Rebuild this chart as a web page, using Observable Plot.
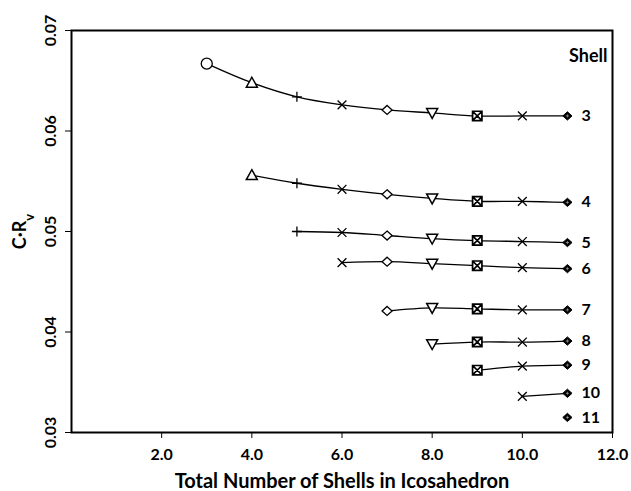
<!DOCTYPE html>
<html>
<head>
<meta charset="utf-8">
<script src="https://cdn.jsdelivr.net/npm/d3@7"></script>
<script src="https://cdn.jsdelivr.net/npm/@observablehq/plot@0.6"></script>
<style>
  html, body { margin: 0; padding: 0; background: #fff; }
  #chart svg { display: block; }
</style>
</head>
<body>
<div id="chart"></div>
<script>
// Total number of shells in the icosahedron (x axis)
const totalShells = [3, 4, 5, 6, 7, 8, 9, 10, 11];
const xTicks = [2, 4, 6, 8, 10, 12];
const yTicks = [0.03, 0.04, 0.05, 0.06, 0.07];

// C·Rv for each shell; shell n is first present when the icosahedron has n shells
const shellIds = [3, 4, 5, 6, 7, 8, 9, 10, 11];
const shell3  = [0.0667, 0.0648, 0.0634, 0.0626, 0.0621, 0.0618, 0.0615, 0.0615, 0.0615];
const shell4  = [0.0556, 0.0548, 0.0542, 0.0537, 0.0533, 0.0530, 0.0530, 0.0529];
const shell5  = [0.0500, 0.0499, 0.0496, 0.0493, 0.0491, 0.0490, 0.0489];
const shell6  = [0.0469, 0.0470, 0.0468, 0.0466, 0.0464, 0.0463];
const shell7  = [0.0421, 0.0424, 0.0423, 0.0422, 0.0422];
const shell8  = [0.0388, 0.0390, 0.0390, 0.0391];
const shell9  = [0.0362, 0.0366, 0.0367];
const shell10 = [0.0336, 0.0339];
const shell11 = [0.0315];
const shellSeries = [shell3, shell4, shell5, shell6, shell7, shell8, shell9, shell10, shell11];

const headerText = "Shell";
const xLabel = "Total Number of Shells in Icosahedron";
const yLabel = "C·R";
const ySub = "v";

const rows = [];
shellSeries.forEach((vals, i) => {
  const shell = shellIds[i];
  vals.forEach((v, j) => rows.push({shell, total: totalShells[totalShells.indexOf(shell) + j], value: v}));
});

// Marker glyphs (radius derived from the area d3 passes in)
const rad = size => Math.sqrt(size / Math.PI);
const symTriUp = {draw(c, s) { const r = rad(s); c.moveTo(0, -r); c.lineTo(r, r * 0.8); c.lineTo(-r, r * 0.8); c.closePath(); }};
const symTriDown = {draw(c, s) { const r = rad(s); c.moveTo(-r, -r * 0.8); c.lineTo(r, -r * 0.8); c.lineTo(0, r); c.closePath(); }};
const symPlus = {draw(c, s) { const r = rad(s); c.moveTo(-r, 0); c.lineTo(r, 0); c.moveTo(0, -r); c.lineTo(0, r); }};
const symTimes = {draw(c, s) { const r = rad(s) * 0.8; c.moveTo(-r, -r); c.lineTo(r, r); c.moveTo(r, -r); c.lineTo(-r, r); }};
const symDiamond = {draw(c, s) { const r = rad(s); c.moveTo(0, -r * 0.9); c.lineTo(r, 0); c.lineTo(0, r * 0.9); c.lineTo(-r, 0); c.closePath(); }};
const symBoxX = {draw(c, s) { const h = rad(s) * 0.85; c.rect(-h, -h, 2 * h, 2 * h); c.moveTo(-h, -h); c.lineTo(h, h); c.moveTo(h, -h); c.lineTo(-h, h); }};

const markerFor = t => ({3: "circle", 4: "triUp", 5: "plus", 6: "times", 7: "diamond", 8: "triDown", 9: "boxX", 10: "times", 11: "diamondPlus"})[t];
const pick = m => rows.filter(d => markerFor(d.total) === m);
const base = {x: "total", y: "value", stroke: "black"};

const plot = Plot.plot({
  width: 631,
  height: 491,
  marginLeft: 71,
  marginRight: 19,
  marginTop: 30,
  marginBottom: 59,
  style: {fontFamily: "Lato, 'DejaVu Sans', sans-serif", background: "#fff", color: "#000"},
  x: {domain: [0, 12]},
  y: {domain: [0.03, 0.07]},
  marks: [
    Plot.line(rows, {x: "total", y: "value", z: "shell", stroke: "black", strokeWidth: 1.3, curve: "catmull-rom"}),
    Plot.dot(pick("circle"), {...base, symbol: "circle", r: 5.5, fill: "white", strokeWidth: 1.3}),
    Plot.dot(pick("triUp"), {...base, symbol: symTriUp, r: 5.5, fill: "white", strokeWidth: 1.5}),
    Plot.dot(pick("plus"), {...base, symbol: symPlus, r: 5, fill: "none", strokeWidth: 1.3}),
    Plot.dot(pick("times"), {...base, symbol: symTimes, r: 5.5, fill: "none", strokeWidth: 1.3}),
    Plot.dot(pick("diamond"), {...base, symbol: symDiamond, r: 5, fill: "white", strokeWidth: 1.3}),
    Plot.dot(pick("triDown"), {...base, symbol: symTriDown, r: 5.5, fill: "white", strokeWidth: 1.5}),
    Plot.dot(pick("boxX"), {...base, symbol: symBoxX, r: 5.5, fill: "white", strokeWidth: 1.7}),
    Plot.dot(pick("diamondPlus"), {...base, symbol: symDiamond, r: 4.6, fill: "black", strokeWidth: 1}),
    Plot.dot(pick("diamondPlus"), {x: "total", y: "value", symbol: symPlus, r: 1.6, stroke: "#bbb", strokeWidth: 0.6}),
    Plot.text(rows.filter(d => d.total === 11), {x: "total", y: "value", text: d => String(d.shell), dx: 14, textAnchor: "start", fontSize: 16, fontWeight: "bold"}),
    Plot.text([headerText], {frameAnchor: "top-right", dx: -5, dy: 19, lineAnchor: "top", textAnchor: "end", fontSize: 18, fontWeight: "bold"}),
    Plot.axisX({ticks: xTicks, tickFormat: d3.format(".1f"), tickSize: 6, tickPadding: 10, fontSize: 16, fontWeight: "bold", label: null}),
    Plot.axisY({ticks: yTicks, tickFormat: d3.format(".2f"), tickSize: 6, tickPadding: 10, tickRotate: -90, fontSize: 16, fontWeight: "bold", label: null}),
    Plot.text([xLabel], {frameAnchor: "bottom", dy: 55, lineAnchor: "bottom", fontSize: 20, fontWeight: "bold"}),
    Plot.text([yLabel], {frameAnchor: "left", dx: -46, rotate: -90, lineAnchor: "bottom", textAnchor: "middle", fontSize: 18, fontWeight: "bold"}),
    Plot.frame({stroke: "black", strokeWidth: 2})
  ]
});

// subscript v on the y label
d3.select(plot).selectAll("text").filter(function() { return this.textContent === yLabel; })
  .append("tspan").attr("baseline-shift", "sub").attr("font-size", 13).text(ySub);

document.getElementById("chart").appendChild(plot);
</script>
</body>
</html>
